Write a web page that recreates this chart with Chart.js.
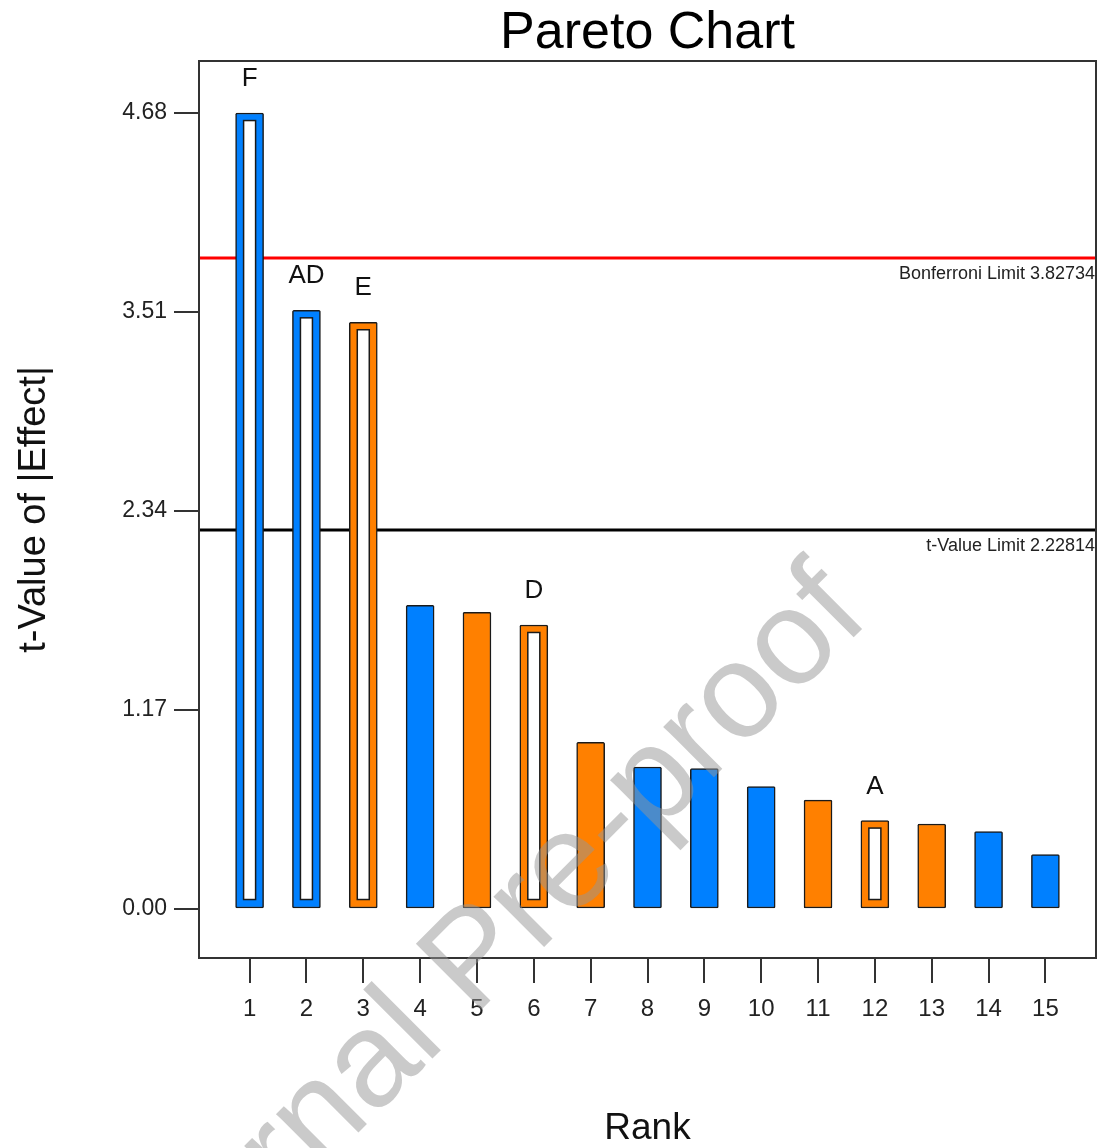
<!DOCTYPE html>
<html>
<head>
<meta charset="utf-8">
<title>Pareto Chart</title>
<script src="https://cdn.jsdelivr.net/npm/chart.js@4.4.1/dist/chart.umd.min.js"></script>
<style>
  html, body { margin: 0; padding: 0; background: #fff; overflow: hidden; }
  canvas { display: block; }
</style>
</head>
<body>
<canvas id="pareto" width="1098" height="1148"></canvas>
<script>
// Effects ranked by |t|; '+' effects are orange, '-' effects blue
const ranks = [1, 2, 3, 4, 5, 6, 7, 8, 9, 10, 11, 12, 13, 14, 15];
const tValues = [4.68, 3.52, 3.45, 1.785, 1.745, 1.67, 0.98, 0.835, 0.825, 0.72, 0.64, 0.52, 0.5, 0.455, 0.32];
const effectSign = ['-', '-', '+', '-', '+', '+', '+', '-', '-', '-', '+', '+', '+', '-', '-'];
// Model terms (hollow bars) carry their name above the bar
const termLabels = ['F', 'AD', 'E', '', '', 'D', '', '', '', '', '', 'A', '', '', ''];
const yTicks = [0, 1.17, 2.34, 3.51, 4.68];
const bonferroniLimit = 3.82734;
const tValueLimit = 2.22814;

const FONT = '"Liberation Sans", Arial, Helvetica, sans-serif';
const BLUE = '#0080ff';
const ORANGE = '#ff8000';

const limits = [
  { value: bonferroniLimit, color: '#ff0000', text: 'Bonferroni Limit ' + bonferroniLimit },
  { value: tValueLimit, color: '#000000', text: 't-Value Limit ' + tValueLimit }
];

const whiteBackground = {
  id: 'whiteBackground',
  beforeDraw(chart) {
    const { ctx, width, height } = chart;
    ctx.save();
    ctx.fillStyle = '#ffffff';
    ctx.fillRect(0, 0, width, height);
    ctx.restore();
  }
};

// Limit lines sit behind the bars; their captions go under the right end
const limitLines = {
  id: 'limitLines',
  beforeDatasetsDraw(chart) {
    const { ctx, chartArea: a, scales: { y } } = chart;
    ctx.save();
    limits.forEach(l => {
      const py = y.getPixelForValue(l.value);
      ctx.strokeStyle = l.color;
      ctx.lineWidth = 3;
      ctx.beginPath();
      ctx.moveTo(a.left, py);
      ctx.lineTo(a.right, py);
      ctx.stroke();
    });
    ctx.restore();
  },
  afterDatasetsDraw(chart) {
    const { ctx, chartArea: a, scales: { y } } = chart;
    ctx.save();
    ctx.font = '18px ' + FONT;
    ctx.fillStyle = '#222';
    ctx.textAlign = 'right';
    ctx.textBaseline = 'alphabetic';
    limits.forEach(l => {
      const py = y.getPixelForValue(l.value);
      ctx.fillText(l.text, a.right - 1, py + 21);
    });
    ctx.restore();
  }
};

// Hollow centre for model terms plus the term name above the bar
const termMarks = {
  id: 'termMarks',
  afterDatasetsDraw(chart) {
    const { ctx } = chart;
    const meta = chart.getDatasetMeta(0);
    ctx.save();
    meta.data.forEach((bar, i) => {
      if (!termLabels[i]) return;
      const { x, y, base, width } = bar.getProps(['x', 'y', 'base', 'width'], true);
      const left = x - width / 2 + 8;
      const right = x + width / 2 - 8;
      const top = y + 7.5;
      const bottom = base - 8.5;
      ctx.fillStyle = '#ffffff';
      ctx.fillRect(left, top, right - left, bottom - top);
      ctx.strokeStyle = '#1a1a1a';
      ctx.lineWidth = 1.5;
      ctx.strokeRect(left, top, right - left, bottom - top);

      ctx.fillStyle = '#111';
      ctx.font = '26px ' + FONT;
      ctx.textAlign = 'center';
      ctx.textBaseline = 'alphabetic';
      ctx.fillText(termLabels[i], x, y - 27);
    });
    ctx.restore();
  }
};

// Close the plot frame along the top and right edges
const plotFrame = {
  id: 'plotFrame',
  afterDraw(chart) {
    const { ctx, chartArea: a } = chart;
    ctx.save();
    ctx.strokeStyle = '#333';
    ctx.lineWidth = 2;
    ctx.strokeRect(a.left, a.top, a.right - a.left, a.bottom - a.top);
    ctx.restore();
  }
};

// Diagonal "Journal Pre-proof" watermark stamped over the figure
const watermark = {
  id: 'watermark',
  afterDraw(chart) {
    const { ctx } = chart;
    ctx.save();
    ctx.translate(503, 988);
    ctx.rotate(-Math.PI / 4);
    ctx.font = '135px ' + FONT;
    ctx.fillStyle = 'rgba(150,150,150,0.5)';
    ctx.textAlign = 'center';
    ctx.textBaseline = 'alphabetic';
    ctx.fillText('Journal Pre-proof', 0, 0);
    ctx.restore();
  }
};

new Chart(document.getElementById('pareto'), {
  type: 'bar',
  data: {
    datasets: [{
      data: ranks.map((r, i) => ({ x: r, y: tValues[i] })),
      backgroundColor: effectSign.map(s => (s === '+' ? ORANGE : BLUE)),
      borderColor: '#1a1a1a',
      borderWidth: 1.5,
      borderSkipped: false,
      borderRadius: 1.5,
      barThickness: 28
    }]
  },
  options: {
    responsive: false,
    animation: false,
    devicePixelRatio: 1,
    layout: { padding: { top: 0, left: 0, right: 2, bottom: 0 } },
    plugins: {
      legend: { display: false },
      tooltip: { enabled: false },
      title: {
        display: true,
        text: 'Pareto Chart',
        fullSize: false,
        color: '#000',
        font: { family: FONT, size: 52, weight: 'normal', lineHeight: 1 },
        padding: { top: 8, bottom: 1 }
      }
    },
    scales: {
      x: {
        type: 'linear',
        min: 0.11,
        max: 15.89,
        offset: false,
        afterBuildTicks: s => { s.ticks = ranks.map(v => ({ value: v })); },
        afterFit: s => { s.height = 190; },
        grid: { offset: false, drawOnChartArea: false, drawTicks: true, tickLength: 25, color: '#333', lineWidth: 2 },
        border: { display: true, color: '#333', width: 2 },
        ticks: {
          color: '#222',
          font: { family: FONT, size: 24 },
          padding: 12,
          autoSkip: false,
          maxRotation: 0,
          callback: v => String(v)
        },
        title: {
          display: true,
          text: 'Rank',
          color: '#111',
          font: { family: FONT, size: 37, lineHeight: 1 },
          padding: { top: 0, bottom: 1 }
        }
      },
      y: {
        min: -0.288,
        max: 4.986,
        afterBuildTicks: s => { s.ticks = yTicks.map(v => ({ value: v })); },
        afterFit: s => { s.width = 199; },
        grid: { drawOnChartArea: false, drawTicks: true, tickLength: 25, color: '#333', lineWidth: 2 },
        border: { display: true, color: '#333', width: 2 },
        ticks: {
          color: '#222',
          font: { family: FONT, size: 23 },
          padding: 7,
          callback: v => Number(v).toFixed(2)
        },
        title: {
          display: true,
          text: 't-Value of |Effect|',
          color: '#111',
          font: { family: FONT, size: 38, lineHeight: 1.2 },
          padding: { top: 12, bottom: 0 }
        }
      }
    }
  },
  plugins: [whiteBackground, limitLines, termMarks, plotFrame, watermark]
});
</script>
</body>
</html>
